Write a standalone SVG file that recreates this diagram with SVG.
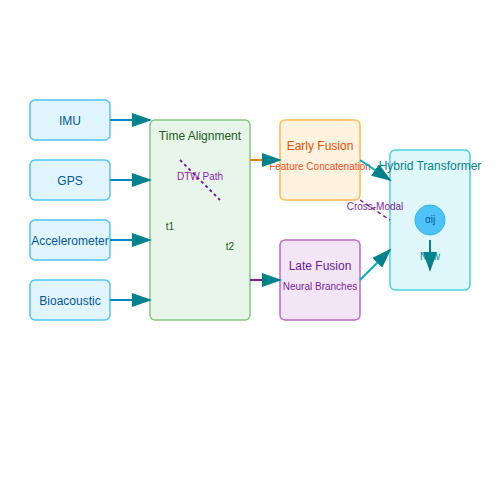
<svg xmlns="http://www.w3.org/2000/svg" width="500" height="500" viewBox="0 0 500 500">
<style>
text{font-family:"Liberation Sans",Arial,sans-serif;text-anchor:middle}
.s{fill:#e1f5fe;stroke:#4fc3f7;stroke-width:1.5}
.st{font-size:12px;fill:#01579b}
.ln{stroke-width:2;fill:none;marker-end:url(#ah)}
.sm{font-size:10px}
</style>
<defs>
<marker id="ah" markerWidth="10" markerHeight="7" refX="9" refY="3.5" orient="auto">
<polygon points="0 0,10 3.5,0 7" fill="#00838f"/>
</marker>
</defs>
<rect width="500" height="500" fill="#fff"/>
<g id="imu"><rect class="s" x="30" y="100" width="80" height="40" rx="5"/><text class="st" x="70" y="125">IMU</text></g>
<g id="gps"><rect class="s" x="30" y="160" width="80" height="40" rx="5"/><text class="st" x="70" y="185">GPS</text></g>
<g id="acc"><rect class="s" x="30" y="220" width="80" height="40" rx="5"/><text class="st" x="70" y="245">Accelerometer</text></g>
<g id="bio"><rect class="s" x="30" y="280" width="80" height="40" rx="5"/><text class="st" x="70" y="305">Bioacoustic</text></g>
<g id="time">
<rect x="150" y="120" width="100" height="200" rx="5" fill="#e8f5e9" stroke="#81c784" stroke-width="1.5"/>
<text x="200" y="140" font-size="12" fill="#1b5e20">Time Alignment</text>
<line x1="180" y1="160" x2="220" y2="200" stroke="#7b1fa2" stroke-width="2" stroke-dasharray="3,3"/>
<text class="sm" x="200" y="180" fill="#8e24aa">DTW Path</text>
<text class="sm" x="170" y="230" fill="#1b5e20">t1</text>
<text class="sm" x="230" y="250" fill="#1b5e20">t2</text>
</g>
<g id="early">
<rect x="280" y="120" width="80" height="80" rx="5" fill="#fff3e0" stroke="#ffb74d" stroke-width="1.5"/>
<text x="320" y="150" font-size="12" fill="#e65100">Early Fusion</text>
<text class="sm" x="320" y="170" fill="#f4511e">Feature Concatenation</text>
</g>
<g id="late">
<rect x="280" y="240" width="80" height="80" rx="5" fill="#f3e5f5" stroke="#ba68c8" stroke-width="1.5"/>
<text x="320" y="270" font-size="12" fill="#6a1b9a">Late Fusion</text>
<text class="sm" x="320" y="290" fill="#7b1fa2">Neural Branches</text>
</g>
<g id="hybrid">
<rect x="390" y="150" width="80" height="140" rx="5" fill="#e0f7fa" stroke="#4dd0e1" stroke-width="1.5"/>
<text x="430" y="170" font-size="12" fill="#00838f">Hybrid Transformer</text>
<circle cx="430" cy="220" r="15" fill="#4fc3f7" stroke="#29b6f6" stroke-width="1"/>
<text class="sm" x="430" y="223" fill="#01579b">αij</text>
<text class="sm" x="430" y="260" fill="#00838f">New</text>
</g>
<g id="connectors">
<line class="ln" x1="110" y1="120" x2="150" y2="120" stroke="#0288d1"/>
<line class="ln" x1="110" y1="180" x2="150" y2="180" stroke="#0288d1"/>
<line class="ln" x1="110" y1="240" x2="150" y2="240" stroke="#0288d1"/>
<line class="ln" x1="110" y1="300" x2="150" y2="300" stroke="#0288d1"/>
<line class="ln" x1="250" y1="160" x2="280" y2="160" stroke="#f57c00"/>
<line class="ln" x1="250" y1="280" x2="280" y2="280" stroke="#7b1fa2"/>
<line class="ln" x1="360" y1="160" x2="390" y2="180" stroke="#00acc1"/>
<line class="ln" x1="360" y1="280" x2="390" y2="250" stroke="#00acc1"/>
<line x1="360" y1="200" x2="390" y2="220" stroke="#7b1fa2" stroke-width="1.5" stroke-dasharray="4,3"/>
<text class="sm" x="375" y="210" fill="#7b1fa2">Cross-Modal</text>
<line class="ln" x1="430" y1="240" x2="430" y2="270" stroke="#00838f"/>
</g>
</svg>
